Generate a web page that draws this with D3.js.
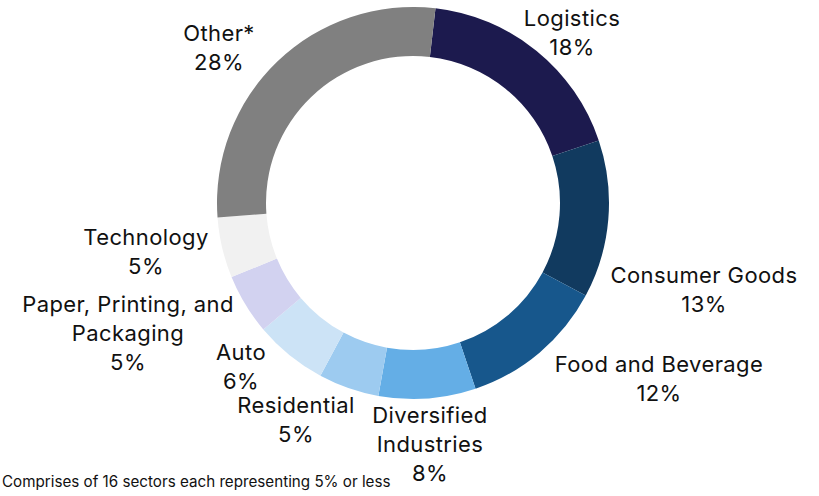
<!DOCTYPE html>
<html>
<head>
<meta charset="utf-8">
<script src="https://cdn.jsdelivr.net/npm/d3@7"></script>
<style>
  html, body { margin: 0; padding: 0; background: #fff; }
  svg { display: block; }
  text { font-family: Inter, "Noto Sans", sans-serif; fill: #111; }
</style>
</head>
<body>
<svg id="chart" width="819" height="496"></svg>
<script>
// Sector breakdown (share of portfolio, %)
const sectors = ["Logistics", "Consumer Goods", "Food and Beverage", "Diversified Industries",
                 "Residential", "Auto", "Paper, Printing, and Packaging", "Technology", "Other*"];
const shares = [18, 13, 12, 8, 5, 6, 5, 5, 28];
const colors = ["#1c1a4e", "#113a5f", "#17578c", "#64aee6", "#9dcbf0", "#cce3f6", "#d2d2f0", "#f1f1f1", "#808080"];
// Wrapped label lines for each sector
const labelLines = [
  ["Logistics"], ["Consumer Goods"], ["Food and Beverage"], ["Diversified", "Industries"],
  ["Residential"], ["Auto"], ["Paper, Printing, and", "Packaging"], ["Technology"], ["Other*"]
];
const footnote = "Comprises of 16 sectors each representing 5% or less";

// Layout
const cx = 413, cy = 203, outerR = 196, innerR = 147;
const startOffset = 0.115;            // rotation of the first slice (radians)
const lineGap = 29;
// label anchor (centre x, first baseline) relative to the donut centre
const labelOffsets = [
  [159, -177], [291, 80], [246, 169], [17, 220],
  [-117, 210], [-172, 157], [-285, 109], [-267, 42], [-194, -162]
];

const svg = d3.select("#chart");
const g = svg.append("g").attr("transform", `translate(${cx},${cy})`);

const pie = d3.pie().sort(null).value(d => d)
  .startAngle(startOffset).endAngle(startOffset + 2 * Math.PI);
const arc = d3.arc().innerRadius(innerR).outerRadius(outerR);

g.selectAll("path.slice")
  .data(pie(shares))
  .join("path")
  .attr("class", "slice")
  .attr("d", arc)
  .attr("fill", (d, i) => colors[i]);

const labels = g.selectAll("text.label")
  .data(sectors.map((s, i) => ({ lines: [...labelLines[i], shares[i] + "%"], off: labelOffsets[i] })))
  .join("text")
  .attr("class", "label")
  .attr("text-anchor", "middle")
  .attr("font-size", 22)
  .attr("letter-spacing", 0.4);

labels.selectAll("tspan")
  .data(d => d.lines.map((t, k) => ({ t, k, off: d.off })))
  .join("tspan")
  .attr("x", d => d.off[0])
  .attr("y", d => d.off[1] + d.k * lineGap)
  .text(d => d.t);

svg.append("text")
  .attr("x", 2).attr("y", 487)
  .attr("font-size", 15.2)
  .text(footnote);
</script>
</body>
</html>
